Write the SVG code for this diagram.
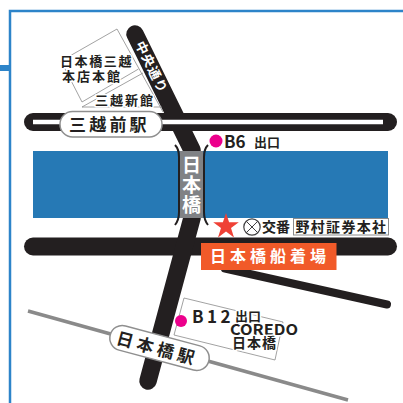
<svg xmlns="http://www.w3.org/2000/svg" width="403" height="403" viewBox="0 0 403 403">
<style>
text{font-family:"Noto Sans CJK JP","Noto Sans",sans-serif;fill:#231f20;font-weight:700}
.white{fill:#fff}
.halo{paint-order:stroke;stroke:#fff;stroke-width:3;stroke-linejoin:round}
.road{stroke:#231f20;fill:none;stroke-linecap:round;stroke-linejoin:round}
.thin{fill:none;stroke:#8a8a8a;stroke-width:.8}
.pill{fill:#fff;stroke:#8f8f8f;stroke-width:1.5}
.dot{fill:#ec008c}
</style>
<rect width="403" height="403" fill="#fff"/>
<g id="frame" fill="none" stroke="#2d84c9" stroke-width="2.500">
<path d="M403 11H10V403"/><path d="M0 68H10" stroke-width="6"/>
</g>
<g id="river"><rect x="33" y="151" width="355" height="67" fill="#2679b5"/></g>
<g id="connectors">
<path d="M28 311L348 400" stroke="#8a8a8a" stroke-width="3.500" fill="none"/>
<path class="road" d="M225 268.500L387 304.500" stroke-width="8"/>
<path class="road" d="M33 246.500H388" stroke-width="18"/>
<path class="road" d="M33 122H388" stroke-width="18"/>
<path class="road" d="M135 34L192 150L192 218L148 381" stroke-width="17.500"/>
<path d="M33 122H383" stroke="#fff" stroke-width="4.500"/>
</g>
<g id="bldg-mitsukoshi">
<path class="thin" d="M117 29L163 112M117 29L61 61L82 102L138.500 69M82 107L143 73M82 107H162"/>
<text class="halo" x="60" y="66" font-size="13" letter-spacing="1.600">日本橋三越</text>
<text class="halo" x="62" y="81" font-size="13" letter-spacing="2">本店本館</text>
<text class="halo" x="95" y="105" font-size="13" letter-spacing="2">三越新館</text>
</g>
<g id="road-label"><text class="white" transform="translate(135 44) rotate(64)" font-size="13" letter-spacing="1">中央通り</text></g>
<g id="station-mitsukoshimae">
<rect class="pill" x="60" y="111.500" width="102" height="25.500" rx="12.500"/>
<text x="69" y="131" font-size="17" letter-spacing="3.200">三越前駅</text>
</g>
<g id="bridge">
<rect x="180" y="151" width="23" height="67" fill="#808285"/>
<path d="M175 145Q179 149 179 157V212Q179 220 175 225M208 145Q204 149 204 157V212Q204 220 208 225" fill="none" stroke="#231f20" stroke-width="2"/>
<text class="white" text-anchor="middle" x="191.500" y="171.500" font-size="19">日</text>
<text class="white" text-anchor="middle" x="191.500" y="191.500" font-size="19">本</text>
<text class="white" text-anchor="middle" x="191.500" y="212" font-size="19">橋</text>
</g>
<g id="exit-b6">
<circle class="dot" cx="216" cy="141" r="6.500"/>
<text x="224" y="148" font-size="17">B6</text><text x="254" y="147" font-size="13">出口</text>
</g>
<g id="koban">
<path d="M226 213L229.100 222.300L238.800 222.300L231 228L234 237.400L226 231.600L218 237.400L221 228L213.200 222.300L222.900 222.300Z" fill="#ef4136"/>
<circle cx="252" cy="227" r="8.200" fill="#fff" stroke="#414042" stroke-width="1.200"/>
<path d="M246.200 221.200L257.800 232.800M257.800 221.200L246.200 232.800" stroke="#414042"/>
<text x="262" y="232" font-size="14">交番</text>
</g>
<g id="nomura">
<rect x="293.500" y="218.500" width="95" height="16.500" fill="#fff" stroke="#8a8a8a"/>
<text x="295.500" y="232" font-size="14" letter-spacing="1.300">野村証券本社</text>
</g>
<g id="pier">
<rect x="201" y="243" width="135.500" height="27" fill="#f15a29"/>
<text class="white" x="210" y="262" font-size="16" letter-spacing="4">日本橋船着場</text>
</g>
<g id="exit-b12">
<polygon class="thin" points="184,298 283,322 275,360 174,335"/>
<circle class="dot" cx="181" cy="321" r="6"/>
<text x="192" y="323" font-size="17" letter-spacing="3.500">B12</text>
<text class="halo" x="235" y="321" font-size="13">出口</text>
<text class="halo" x="230" y="335" font-size="15" textLength="68" lengthAdjust="spacingAndGlyphs">COREDO</text>
<text class="halo" x="232" y="348" font-size="14" letter-spacing="1">日本橋</text>
</g>
<g id="station-nihombashi">
<rect class="pill" x="-51" y="-12.500" width="102" height="25" rx="12.500" transform="translate(159.500 348) rotate(15)"/>
<text transform="translate(115.200 343.600) rotate(15)" font-size="17" letter-spacing="4">日本橋駅</text>
</g>
</svg>
